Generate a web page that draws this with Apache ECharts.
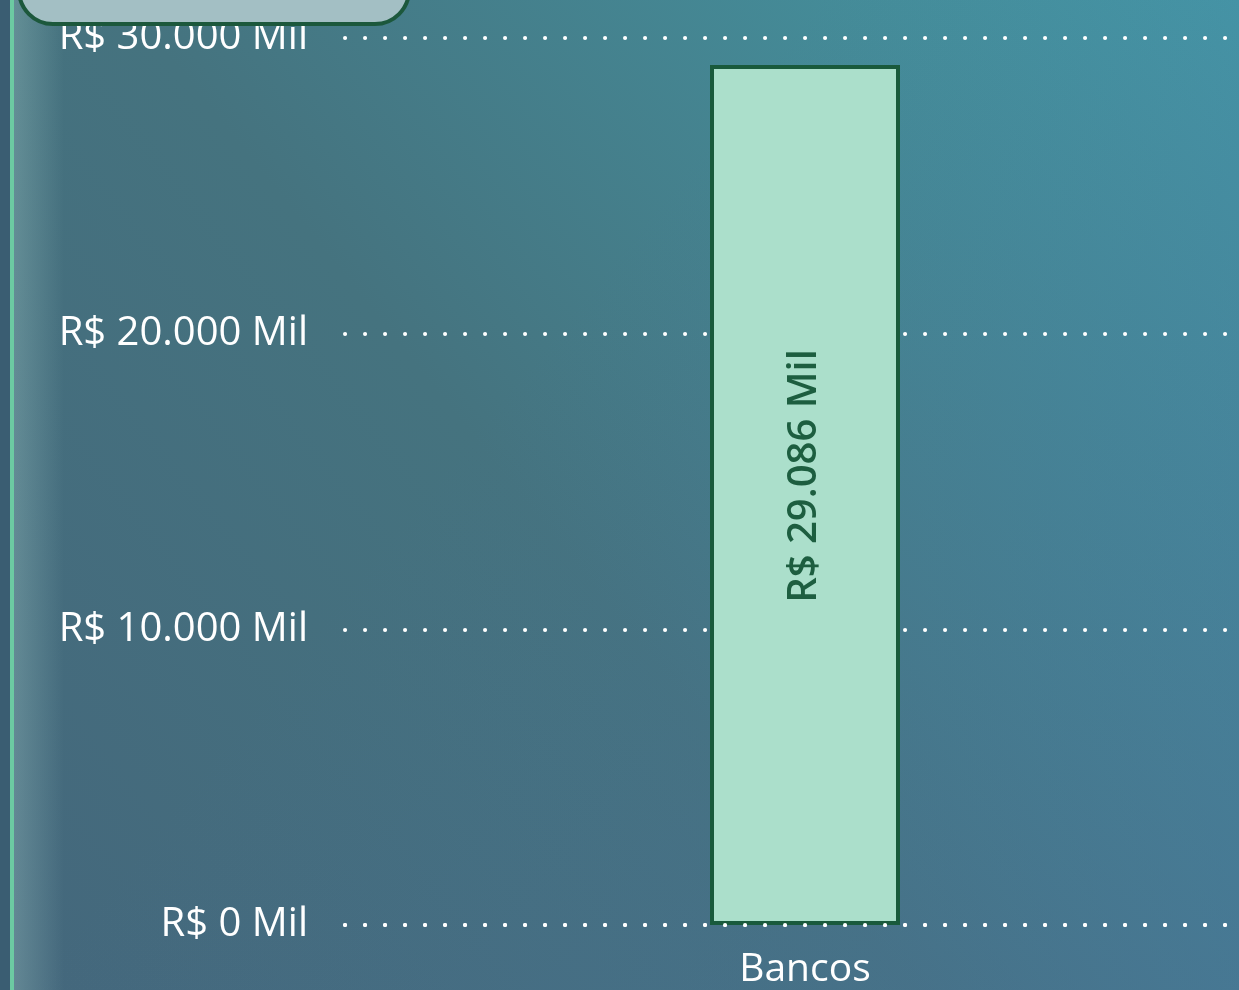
<!DOCTYPE html>
<html>
<head>
    <meta charset="utf-8">
    <title>Bancos</title>
    <script src="https://cdn.jsdelivr.net/npm/echarts@6/dist/echarts.min.js"></script>
    <style>
        html, body { margin: 0; padding: 0; background: #44707f; }
    </style>
</head>
<body>
<div id="main" style="width: 1239px;height:990px;"></div>
<script type="text/javascript">
    // dados
    var categories = ['Bancos'];
    var values = [29086];
    var yTicks = [0, 10000, 20000, 30000];

    function fmtMil(v) {
        return 'R$ ' + String(Math.round(v)).replace(/\B(?=(\d{3})+(?!\d))/g, '.') + ' Mil';
    }

    var myChart = echarts.init(document.getElementById('main'));

    var option = {
        backgroundColor: {
            type: 'linear', x: 1, y: 0, x2: 0, y2: 1,
            colorStops: [
                {offset: 0, color: '#4499a6'},
                {offset: 0.55, color: '#45737f'},
                {offset: 1, color: '#44677c'}
            ]
        },
        textStyle: {fontFamily: '"Open Sans", "Noto Sans", sans-serif'},
        graphic: [
            // tom azulado no canto inferior direito
            {
                type: 'rect', z: -10, silent: true,
                shape: {x: 0, y: 0, width: 1239, height: 990},
                style: {
                    fill: {
                        type: 'linear', x: 0, y: 0, x2: 1, y2: 1,
                        colorStops: [
                            {offset: 0.4, color: 'rgba(74,110,160,0)'},
                            {offset: 1, color: 'rgba(74,110,160,0.4)'}
                        ]
                    }
                }
            },
            {
                type: 'rect', z: 5, silent: true,
                shape: {x: 0, y: 0, width: 10, height: 990},
                style: {fill: '#3a5d72'}
            },
            {
                type: 'rect', z: 5, silent: true,
                shape: {x: 14, y: 0, width: 50, height: 990},
                style: {
                    fill: {
                        type: 'linear', x: 0, y: 0, x2: 1, y2: 0,
                        colorStops: [
                            {offset: 0, color: 'rgba(190,230,220,0.25)'},
                            {offset: 1, color: 'rgba(190,230,220,0)'}
                        ]
                    }
                }
            },
            {
                type: 'rect', z: 6, silent: true,
                shape: {x: 10, y: 0, width: 4, height: 990},
                style: {fill: '#6ccaa2'}
            },
            // caixa arredondada no topo
            {
                type: 'rect', z: 20, silent: true,
                shape: {x: 19, y: -70, width: 390, height: 94, r: 34},
                style: {fill: '#a3bfc4', stroke: '#1c583c', lineWidth: 4}
            }
        ],
        grid: {
            left: 345,
            top: 38,
            width: 920,
            bottom: 65,
            containLabel: false,
            outerBoundsMode: 'none'
        },
        xAxis: {
            type: 'category',
            data: categories,
            z: 3,
            axisTick: {show: false},
            axisLine: {
                show: true,
                lineStyle: {color: '#ffffff', width: 4, type: [0.1, 19.9], cap: 'round'}
            },
            axisLabel: {
                color: '#ffffff',
                fontSize: 39,
                margin: 25
            }
        },
        yAxis: {
            type: 'value',
            min: yTicks[0],
            max: yTicks[yTicks.length - 1],
            interval: yTicks[1] - yTicks[0],
            axisLine: {show: false},
            axisTick: {show: false},
            splitLine: {
                show: true,
                lineStyle: {color: '#ffffff', width: 4, type: [0.1, 19.9], cap: 'round'}
            },
            axisLabel: {
                color: '#ffffff',
                fontSize: 40,
                margin: 37,
                formatter: fmtMil
            }
        },
        series: [
            {
                type: 'bar',
                data: values,
                barWidth: 190,
                itemStyle: {
                    color: '#abdfcb',
                    borderColor: '#195a3c',
                    borderWidth: 4
                },
                label: {
                    show: true,
                    position: 'inside',
                    rotate: 90,
                    offset: [19, 0],
                    color: '#1d5e40',
                    fontSize: 40,
                    fontWeight: 600,
                    formatter: function (p) { return fmtMil(p.value); }
                }
            }
        ]
    };

    myChart.setOption(option);
</script>
</body>
</html>
